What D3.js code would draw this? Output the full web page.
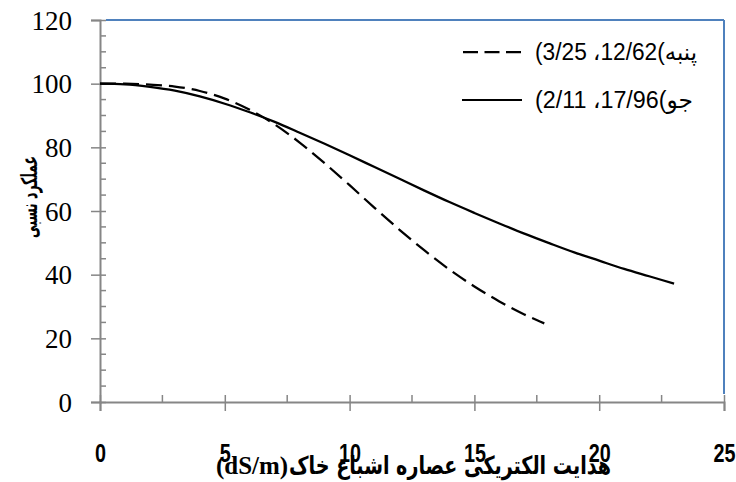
<!DOCTYPE html>
<html>
<head>
<meta charset="utf-8">
<script src="https://cdn.jsdelivr.net/npm/d3@7"></script>
<style>
  body { margin: 0; background: #fff; }
</style>
</head>
<body>
<div id="chart"></div>
<script>
// salinity (EC, dS/m) and relative yield
const ecCotton = [0, 1, 2, 3, 4, 5, 6, 7, 8, 9, 10, 11, 12, 13, 14, 15, 16, 17, 17.8];
const yieldCotton = [100, 100, 99.7, 99.1, 97.7, 95.3, 91.8, 87.2, 81.5, 75, 68.1, 61, 54.1, 47.6, 41.6, 36.3, 31.6, 27.5, 24.7];
const ecBarley = [0, 1, 2, 3, 4, 5, 6, 7, 8, 9, 10, 11, 12, 13, 14, 15, 16, 17, 18, 19, 20, 21, 22, 23];
const yieldBarley = [100, 99.8, 99, 97.8, 96, 93.7, 91, 88, 84.6, 81.1, 77.5, 73.8, 70.1, 66.4, 62.8, 59.4, 56.1, 52.9, 49.9, 47, 44.4, 41.8, 39.5, 37.2];

const xTicks = [0, 5, 10, 15, 20, 25];
const yTicks = [0, 20, 40, 60, 80, 100, 120];
const legendCotton = "(3/25 \u060C12/62(\u200Eپنبه";
const legendBarley = "(2/11 \u060C17/96(\u200Eجو";
const xTitleLatin = "(dS/m)";
const xTitlePersian = "هدایت الکتریکی عصاره اشباع خاک";
const yTitle = "عملکرد نسبی";

const svgWidth = 736, svgHeight = 482;
const margin = { top: 20, right: 12, bottom: 80, left: 100 };
const width = 624;
const height = 382;

const svg = d3.select("#chart").append("svg")
    .attr("width", svgWidth)
    .attr("height", svgHeight);

const g = svg.append("g")
    .attr("transform", `translate(${margin.left},${margin.top})`);

const x = d3.scaleLinear().domain([0, 25]).range([0, width]);
const y = d3.scaleLinear().domain([0, 120]).range([height, 0]);

const axisGrey = "#868686";
const borderBlue = "#4f81bd";

// blue frame on top and right
g.append("line")
    .attr("x1", 6).attr("x2", width)
    .attr("y1", 0).attr("y2", 0)
    .attr("stroke", borderBlue).attr("stroke-width", 2);
g.append("line")
    .attr("x1", width).attr("x2", width)
    .attr("y1", 0).attr("y2", height - 8)
    .attr("stroke", borderBlue).attr("stroke-width", 2);

// minor ticks (inside)
g.selectAll(".yminor")
    .data(d3.range(0, 121, 5).filter(v => v % 20 !== 0))
    .enter().append("line")
    .attr("x1", 0).attr("x2", 6)
    .attr("y1", d => y(d)).attr("y2", d => y(d))
    .attr("stroke", axisGrey).attr("stroke-width", 1.5);

g.selectAll(".xminor")
    .data(d3.range(2.5, 25, 5))
    .enter().append("line")
    .attr("x1", d => x(d)).attr("x2", d => x(d))
    .attr("y1", height).attr("y2", height - 7)
    .attr("stroke", axisGrey).attr("stroke-width", 1.5);

// y axis
const yAxis = g.append("g")
    .call(d3.axisLeft(y).tickValues(yTicks).tickSize(9).tickPadding(19));
yAxis.select(".domain").attr("stroke", axisGrey).attr("stroke-width", 2);
yAxis.selectAll(".tick line")
    .attr("x2", -9).attr("x1", 6)
    .attr("stroke", axisGrey).attr("stroke-width", 1.5);
yAxis.selectAll(".tick text")
    .attr("font-family", "'Liberation Serif', 'Times New Roman', serif")
    .attr("font-size", "27px")
    .attr("fill", "#000")
    .attr("dy", "0.34em");

// x axis
const xAxis = g.append("g")
    .attr("transform", `translate(0,${height})`)
    .call(d3.axisBottom(x).tickValues(xTicks).tickSize(9).tickPadding(0));
xAxis.select(".domain").attr("stroke", axisGrey).attr("stroke-width", 2);
xAxis.selectAll(".tick line")
    .attr("y1", -7).attr("y2", 9)
    .attr("stroke", axisGrey).attr("stroke-width", 1.5);
xAxis.selectAll(".tick text")
    .attr("font-family", "'Liberation Sans', Arial, sans-serif")
    .attr("font-weight", "bold")
    .attr("font-size", "25px")
    .attr("fill", "#000")
    .attr("y", 60)
    .attr("dy", 0)
    .attr("textLength", d => String(d).length * 11)
    .attr("lengthAdjust", "spacingAndGlyphs");

// curves
const line = d3.line()
    .x(d => x(d[0]))
    .y(d => y(d[1]))
    .curve(d3.curveMonotoneX);

g.append("path")
    .datum(d3.zip(ecBarley, yieldBarley))
    .attr("fill", "none")
    .attr("stroke", "#000")
    .attr("stroke-width", 2.25)
    .attr("d", line);

g.append("path")
    .datum(d3.zip(ecCotton, yieldCotton))
    .attr("fill", "none")
    .attr("stroke", "#000")
    .attr("stroke-width", 2.25)
    .attr("stroke-dasharray", "16,7")
    .attr("d", line);

// legend
const legend = svg.append("g");
legend.append("line")
    .attr("x1", 463).attr("x2", 522)
    .attr("y1", 52).attr("y2", 52)
    .attr("stroke", "#000").attr("stroke-width", 2.25)
    .attr("stroke-dasharray", "15,6.5");
legend.append("line")
    .attr("x1", 462).attr("x2", 522)
    .attr("y1", 100).attr("y2", 100)
    .attr("stroke", "#000").attr("stroke-width", 2);

const legendFont = "'Liberation Sans', Arial, 'DejaVu Sans', sans-serif";
legend.append("text")
    .attr("x", 535).attr("y", 60)
    .attr("direction", "ltr")
    .attr("font-family", legendFont)
    .attr("font-size", "23px")
    .attr("textLength", 162)
    .attr("lengthAdjust", "spacingAndGlyphs")
    .text(legendCotton);
legend.append("text")
    .attr("x", 535).attr("y", 108)
    .attr("direction", "ltr")
    .attr("font-family", legendFont)
    .attr("font-size", "23px")
    .attr("textLength", 158)
    .attr("lengthAdjust", "spacingAndGlyphs")
    .text(legendBarley);

// x axis title
svg.append("text")
    .attr("x", 216).attr("y", 474)
    .attr("font-family", "'Liberation Serif', 'Times New Roman', serif")
    .attr("font-weight", "bold")
    .attr("font-size", "25px")
    .attr("textLength", 72)
    .attr("lengthAdjust", "spacingAndGlyphs")
    .text(xTitleLatin);
svg.append("text")
    .attr("x", 289).attr("y", 474)
    .attr("direction", "ltr")
    .attr("font-family", "'DejaVu Sans', sans-serif")
    .attr("font-weight", "bold")
    .attr("font-size", "25px")
    .attr("textLength", 322)
    .attr("lengthAdjust", "spacingAndGlyphs")
    .text(xTitlePersian);

// y axis title
svg.append("text")
    .attr("transform", "translate(37,197) rotate(-90)")
    .attr("text-anchor", "middle")
    .attr("font-family", "'DejaVu Sans', sans-serif")
    .attr("font-weight", "bold")
    .attr("font-size", "22px")
    .attr("textLength", 82)
    .attr("lengthAdjust", "spacingAndGlyphs")
    .text(yTitle);
</script>
</body>
</html>
